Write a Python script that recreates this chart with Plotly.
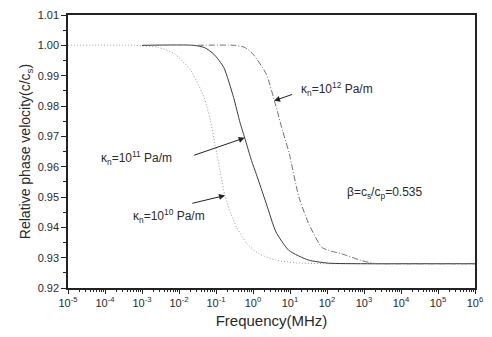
import numpy as np
import plotly.graph_objects as go

# ---- data (log10 of frequency in MHz, relative phase velocity c/cs) ----
logf_k10 = [-5.0, -3.2, -2.56, -2.12, -1.68, -1.32, -1.15, -1.02, -0.88, -0.76, -0.60, -0.44,
            -0.17, 0.17, 0.62, 1.15, 2.0, 3.0, 4.0, 5.0, 6.0]
vel_k10 = [1.0000, 1.0000, 0.9993, 0.9972, 0.9916, 0.9828, 0.9751, 0.9670, 0.9580, 0.9505, 0.9445, 0.9400,
           0.9347, 0.9312, 0.9292, 0.9283, 0.9280, 0.9280, 0.9280, 0.9280, 0.9280]

logf_k11 = [-3.0, -1.6, -1.30, -1.06, -0.79, -0.525, -0.35, -0.20, -0.04, 0.09, 0.36, 0.62, 0.97,
            1.50, 2.03, 3.0, 4.0, 5.0, 6.0]
vel_k11 = [1.0000, 1.0000, 0.9992, 0.9971, 0.9927, 0.9828, 0.9745, 0.9685, 0.9620, 0.9575, 0.9478, 0.9385, 0.9324,
           0.9292, 0.9282, 0.9280, 0.9280, 0.9280, 0.9280]

logf_k12 = [-1.5, -0.5, -0.22, 0.0, 0.36, 0.58, 0.80, 0.98, 1.24, 1.51, 1.86, 2.10, 2.39, 2.92, 3.28,
            4.0, 5.0, 6.0]
vel_k12 = [1.0000, 1.0000, 0.9993, 0.9971, 0.9905, 0.9817, 0.9718, 0.9643, 0.9500, 0.9411, 0.9334, 0.9322,
           0.9313, 0.9291, 0.9281, 0.9280, 0.9280, 0.9280]

x_tick_exp = [-5, -4, -3, -2, -1, 0, 1, 2, 3, 4, 5, 6]
y_tick_vals = [0.92, 0.93, 0.94, 0.95, 0.96, 0.97, 0.98, 0.99, 1.00, 1.01]

FONT = "Liberation Sans, Arial, sans-serif"
TXT = "#2a2a2a"

fig = go.Figure()
fig.add_trace(go.Scatter(x=10 ** np.array(logf_k10), y=vel_k10, mode="lines",
                         line=dict(color="#9a9a9a", width=1, dash="1px,2px", shape="spline", smoothing=0.6),
                         showlegend=False))
fig.add_trace(go.Scatter(x=10 ** np.array(logf_k11), y=vel_k11, mode="lines",
                         line=dict(color="#3a3a3a", width=1, shape="spline", smoothing=0.6),
                         showlegend=False))
fig.add_trace(go.Scatter(x=10 ** np.array(logf_k12), y=vel_k12, mode="lines",
                         line=dict(color="#707070", width=1, dash="6px,2px,1px,2px", shape="spline", smoothing=0.6),
                         showlegend=False))

minor_x = [k * 10.0 ** e for e in x_tick_exp[:-1] for k in range(2, 10)]

fig.update_xaxes(type="log", range=[-5, 6],
                 tickvals=[10.0 ** e for e in x_tick_exp],
                 ticktext=["10<sup>%d</sup>" % e for e in x_tick_exp],
                 ticks="outside", ticklen=4, tickwidth=1, tickcolor="#222",
                 minor=dict(tickvals=minor_x, ticks="outside", ticklen=2, tickwidth=1, tickcolor="#222"),
                 showline=True, linecolor="#222", linewidth=1.5, mirror=True,
                 showgrid=False, zeroline=False,
                 tickfont=dict(family=FONT, size=11, color=TXT),
                 title=dict(text="Frequency(MHz)", font=dict(family=FONT, size=15, color=TXT), standoff=8))
fig.update_yaxes(range=[0.92, 1.01], tickvals=y_tick_vals,
                 ticktext=["%.2f" % v for v in y_tick_vals],
                 ticks="outside", ticklen=5, tickwidth=1, tickcolor="#222",
                 minor=dict(dtick=0.005, tick0=0.92, ticks="outside", ticklen=3, tickwidth=1, tickcolor="#222"),
                 showline=True, linecolor="#222", linewidth=1.5, mirror=True,
                 showgrid=False, zeroline=False,
                 tickfont=dict(family=FONT, size=11, color=TXT),
                 title=dict(text="Relative phase velocity(c/c<sub>s</sub>)",
                            font=dict(family=FONT, size=14, color=TXT), standoff=4))

def arrow(tip_lf, tip_v, tail_lf, tail_v):
    fig.add_annotation(x=tip_lf, y=tip_v, ax=tail_lf, ay=tail_v, xref="x", yref="y",
                       axref="x", ayref="y", text="", showarrow=True,
                       arrowhead=2, arrowsize=1.2, arrowwidth=1, arrowcolor="#222")

def label(lf, v, text):
    fig.add_annotation(x=lf, y=v, xref="x", yref="y", text=text, showarrow=False,
                       xanchor="left", yanchor="middle",
                       font=dict(family=FONT, size=12, color=TXT))

label(1.23, 0.9857, "κ<sub>n</sub>=10<sup>12</sup> Pa/m")
arrow(0.57, 0.9817, 1.10, 0.9840)
label(-4.15, 0.9630, "κ<sub>n</sub>=10<sup>11</sup> Pa/m")
arrow(-0.225, 0.9695, -1.63, 0.9636)
label(-3.30, 0.9439, "κ<sub>n</sub>=10<sup>10</sup> Pa/m")
arrow(-0.756, 0.9505, -1.68, 0.9478)
label(2.48, 0.9514, "β=c<sub>s</sub>/c<sub>p</sub>=0.535")

fig.update_layout(width=492, height=337, margin=dict(l=68, r=9, t=14, b=49),
                  paper_bgcolor="white", plot_bgcolor="white",
                  font=dict(family=FONT, color=TXT))
fig.write_html("out.html")
